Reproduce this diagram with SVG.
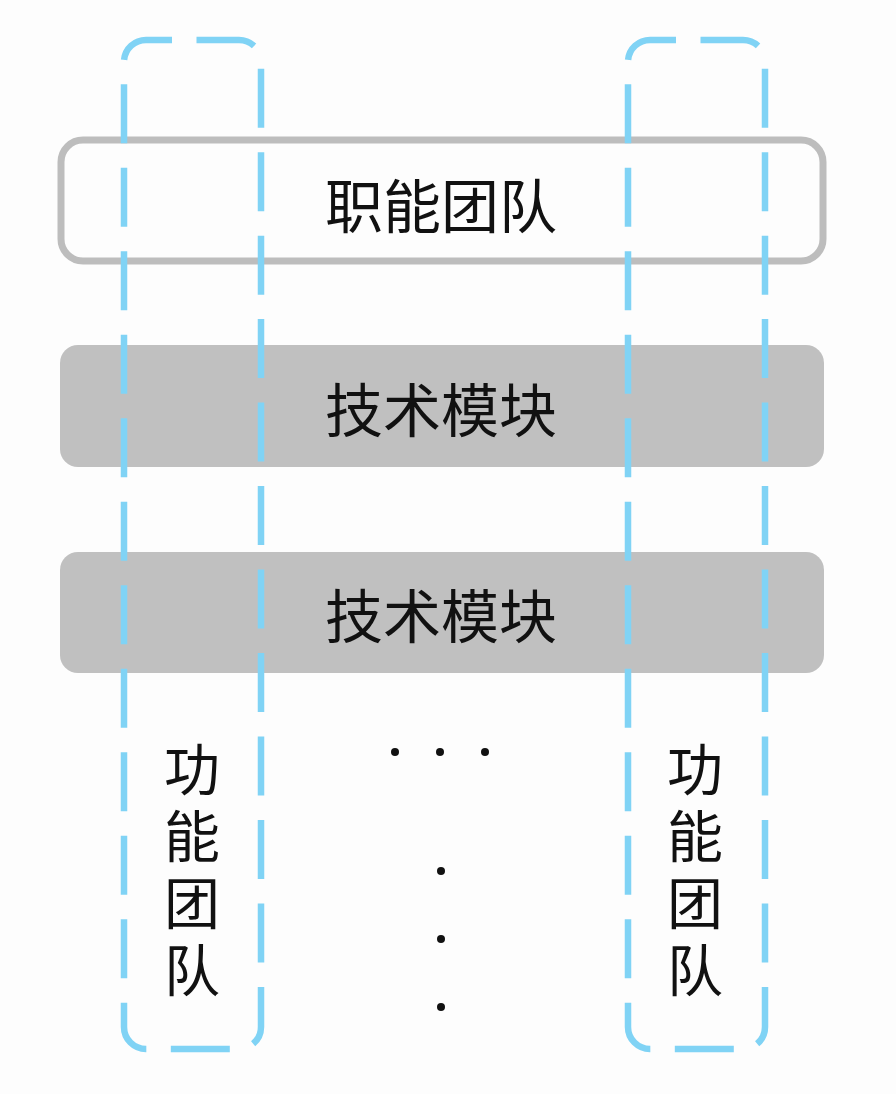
<svg xmlns="http://www.w3.org/2000/svg" width="896" height="1094" viewBox="0 0 896 1094">
<style>
.bg{fill:#fdfdfd}
.outline{fill:none;stroke:#bdbdbd;stroke-width:7}
.module{fill:#c0c0c0}
.team{fill:none;stroke:#80d3f5;stroke-width:6.5;stroke-dasharray:59 24.49;stroke-dashoffset:33}
.lbl{font-family:"Noto Sans CJK SC","Noto Sans",sans-serif;fill:#111;text-anchor:middle}
.h{font-size:58px}
.v{font-size:56px}
.dot{fill:#111}
</style>
<rect class="bg" x="0" y="0" width="896" height="1094"/>
<g id="functional-team-row">
<rect class="outline" x="61" y="140" width="762" height="121" rx="22"/>
<text class="lbl h" x="441" y="228">职能团队</text>
</g>
<g id="tech-module-1">
<rect class="module" x="60" y="345" width="764" height="122" rx="18"/>
<text class="lbl h" x="441" y="432">技术模块</text>
</g>
<g id="tech-module-2">
<rect class="module" x="60" y="552" width="764" height="121" rx="18"/>
<text class="lbl h" x="441" y="638">技术模块</text>
</g>
<g id="feature-team-left">
<rect class="team" x="124" y="40" width="137" height="1009" rx="22"/>
<text class="lbl v" x="192"><tspan x="192" y="790">功</tspan><tspan x="192" y="857">能</tspan><tspan x="192" y="924">团</tspan><tspan x="192" y="991">队</tspan></text>
</g>
<g id="feature-team-right">
<rect class="team" x="628" y="40" width="137" height="1009" rx="22"/>
<text class="lbl v" x="695"><tspan x="695" y="790">功</tspan><tspan x="695" y="857">能</tspan><tspan x="695" y="924">团</tspan><tspan x="695" y="991">队</tspan></text>
</g>
<g id="ellipsis">
<circle class="dot" cx="395" cy="752" r="4"/>
<circle class="dot" cx="440" cy="752" r="4"/>
<circle class="dot" cx="485" cy="752" r="4"/>
<circle class="dot" cx="441" cy="871" r="4"/>
<circle class="dot" cx="441" cy="939" r="4"/>
<circle class="dot" cx="441" cy="1007" r="4"/>
</g>
<g id="connectors"></g>
</svg>
